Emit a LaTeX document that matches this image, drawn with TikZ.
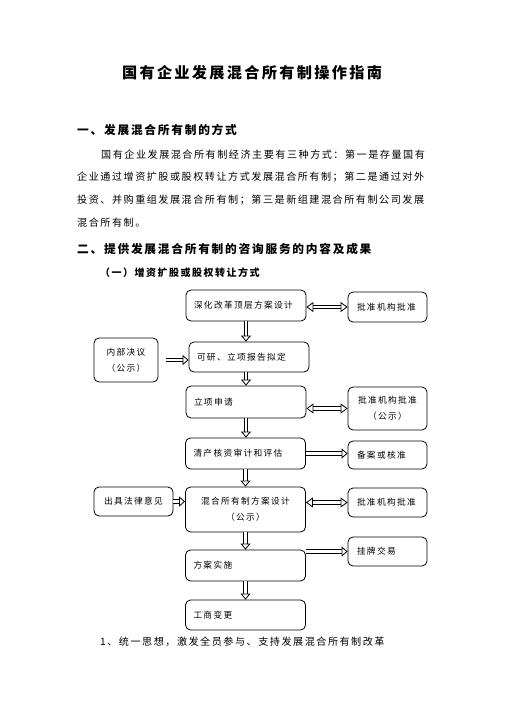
\documentclass[tikz,border=0pt]{standalone}
\usepackage{fontspec}
\setmainfont{Noto Sans CJK SC}
\newfontfamily\cjk[LetterSpace=15]{Noto Sans CJK SC}
\usepackage{tikz}
\usetikzlibrary{arrows.meta, positioning}

\begin{document}
\begin{tikzpicture}
  [
    x=1pt, y=-1pt,
    Title/.style={inner sep=0pt, font=\cjk\bfseries\fontsize{15.2}{18}\selectfont},
    Head/.style={anchor=west, inner sep=0pt, font=\cjk\bfseries\fontsize{11.7}{14}\selectfont},
    Sub/.style={anchor=west, inner sep=0pt, font=\cjk\bfseries\fontsize{10}{12}\selectfont},
    Text/.style={anchor=west, inner sep=0pt, font=\cjk\fontsize{10.1}{12}\selectfont},
    Box/.style={rectangle, rounded corners=5pt, draw=black, line width=0.8pt, minimum width=120pt, minimum height=31pt, text width=104pt, inner xsep=8pt, align=left, font=\cjk\fontsize{8.7}{16}\selectfont},
    Side/.style={Box, minimum width=79pt, text width=61pt, inner xsep=9pt, minimum height=29pt},
    Block/.style={draw=black, line width=0.8pt, double=white, double distance=2.8pt, -{Triangle[length=6pt, width=10pt, line width=0.8pt, fill=white]}},
    Both/.style={Block, {Triangle[length=7pt, width=10pt, line width=0.8pt, fill=white]}-{Triangle[length=7pt, width=10pt, line width=0.8pt, fill=white]}}
  ]
  \path[fill=white] (0, 0) rectangle (504, 713);
  \useasboundingbox (0, 0) rectangle (504, 713);

  % Text
  \node[Title] (title) at(252, 73) {国有企业发展混合所有制操作指南};
  \node[Head] (h1) at(77, 130) {一、发展混合所有制的方式};
  \node[Text] (p1) at(101, 155) {国有企业发展混合所有制经济主要有三种方式：第一是存量国有};
  \node[Text] (p2) at(77, 177) {企业通过增资扩股或股权转让方式发展混合所有制；第二是通过对外};
  \node[Text] (p3) at(77, 200) {投资、并购重组发展混合所有制；第三是新组建混合所有制公司发展};
  \node[Text] (p4) at(77, 223) {混合所有制。};
  \node[Head] (h2) at(77, 249) {二、提供发展混合所有制的咨询服务的内容及成果};
  \node[Sub] (h3) at(100, 273) {（一）增资扩股或股权转让方式};
  \node[Text] (p5) at(100, 642) {1、统一思想，激发全员参与、支持发展混合所有制改革};

  % Nodes
  \node[Box] (b1) at(246, 305.5) {深化改革顶层方案设计};
  \node[Box, minimum height=30pt] (b2) at(249, 357) {可研、立项报告拟定};
  \node[Box, minimum height=32pt] (b3) at(246, 402) {立项申请};
  \node[Box] (b4) at(245.5, 453.5) {清产核资审计和评估};
  \node[Box, minimum height=45pt, align=center] (b5) at(245.5, 509.5) {混合所有制方案设计\\（公示）};
  \node[Box] (b6) at(245.5, 565.5) {方案实施};
  \node[Box, minimum height=30pt] (b7) at(245.5, 615) {工商变更};

  \node[Side, minimum height=30pt] (r1) at(387.5, 307) {批准机构批准};
  \node[Side, minimum height=43pt, align=center] (r3) at(387.5, 408.5) {批准机构批准\\（公示）};
  \node[Side, minimum height=28pt] (r4) at(387.5, 455) {备案或核准};
  \node[Side] (r5) at(387.5, 502.5) {批准机构批准};
  \node[Side] (r6) at(387.5, 551.5) {挂牌交易};

  \node[Side, minimum width=64pt, text width=48pt, inner xsep=8pt, minimum height=44pt, align=center] (l2) at(126, 360) {内部决议\\（公示）};
  \node[Side, align=center] (l5) at(133.5, 501.5) {出具法律意见};

  % Lines
  \draw[Block] (b1.south) -- (b1.south |- b2.north);
  \draw[Block] (b3.north |- b2.south) -- (b3.north);
  \draw[Block] (b3.south) -- (b3.south |- b4.north);
  \draw[Block] (b4.south) -- (b4.south |- b5.north);
  \draw[Block] (b5.south) -- (b5.south |- b6.north);
  \draw[Block] (b6.south) -- (b6.south |- b7.north);

  \draw[Block, shorten <=8pt] (l2.east) -- (l2.east -| b2.west);
  \draw[Block] (l5.east) -- (l5.east -| b5.west);

  \draw[Both] (r1.west -| b1.east) -- (r1.west);
  \draw[Both] (r3.west -| b3.east) -- (r3.west);
  \draw[Block] (b4.east) -- (b4.east -| r4.west);
  \draw[Both] (r5.west -| b5.east) -- (r5.west);
  \draw[Block] (r6.west -| b6.east) -- (r6.west);

\end{tikzpicture}
\end{document}
